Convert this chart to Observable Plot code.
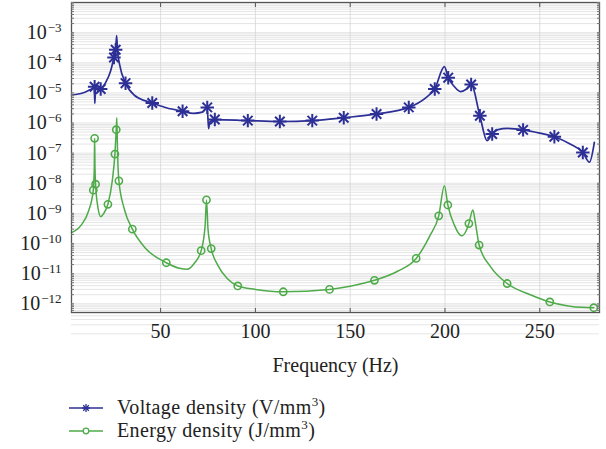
<!DOCTYPE html>
<html><head><meta charset="utf-8">
<script src="https://cdn.jsdelivr.net/npm/d3@7"></script>
<script src="https://cdn.jsdelivr.net/npm/@observablehq/plot@0.6"></script>
<style>
body{margin:0;background:#fff;font-family:"Liberation Serif",serif;}
#wrap{position:relative;width:606px;height:449px;overflow:hidden;}
#legend{position:absolute;left:69px;top:396px;font-size:20px;letter-spacing:0.4px;color:#222;}
.row{display:flex;align-items:center;height:23px;white-space:nowrap;}
.row svg{margin-right:14px;}
sup{font-size:13px;vertical-align:8px;line-height:0;}
</style></head><body><div id="wrap"><div id="chart"></div><div id="legend"></div></div>
<script>
// ---- Data ----
const voltageFreq = [3, 8, 12, 14.5, 15.0, 15.3, 15.7, 18.4, 21, 23.5, 25.4, 26.3, 26.8, 27.3, 28.5, 31.5, 36, 45.6, 53, 61.6, 67.4, 72, 74.6, 75.3, 76, 78.6, 96, 112.9, 130, 146.6, 163.9, 180.9, 190, 194.6, 199.7, 201.7, 205, 208.2, 211, 213.8, 218.4, 222.2, 224.9, 228, 232.8, 241.2, 250, 257.7, 266, 272.7, 276.2, 278.8];
const voltageValue = [8.5e-6, 9.5e-6, 1.2e-5, 1.5e-5, 1.7e-5, 4.5e-6, 1.4e-5, 1.35e-5, 2.2e-5, 5e-5, 1.5e-4, 2.7e-4, 8e-4, 2.5e-4, 8e-5, 2.1e-5, 8.5e-6, 4.6e-6, 3.2e-6, 2.45e-6, 2.1e-6, 2.3e-6, 3.3e-6, 6.5e-7, 1.1e-6, 1.3e-6, 1.2e-6, 1.12e-6, 1.2e-6, 1.5e-6, 2e-6, 3.3e-6, 7e-6, 1.35e-5, 7.4e-5, 3.2e-5, 1.6e-5, 1.1e-5, 1.3e-5, 1.9e-5, 1.75e-6, 2.6e-7, 4.3e-7, 6e-7, 6.6e-7, 5.9e-7, 4.6e-7, 3.5e-7, 2e-7, 1.05e-7, 5e-8, 2.3e-7];
const voltageMarkFreq = [15.2, 18.4, 25.4, 26.3, 31.5, 45.6, 61.6, 74.6, 78.6, 96, 112.9, 130, 146.6, 163.9, 180.9, 194.6, 201.7, 213.8, 218.4, 224.9, 241.2, 257.7, 272.7];
const voltageMarkValue = [1.6e-5, 1.35e-5, 1.5e-4, 2.7e-4, 2.1e-5, 4.6e-6, 2.45e-6, 3.3e-6, 1.3e-6, 1.2e-6, 1.12e-6, 1.2e-6, 1.5e-6, 2e-6, 3.3e-6, 1.35e-5, 3.2e-5, 1.9e-5, 1.75e-6, 4.3e-7, 5.9e-7, 3.5e-7, 1.05e-7];

const energyFreq = [3, 8, 12, 14.5, 15.0, 15.2, 15.4, 15.7, 17, 18.4, 20, 22.2, 24.5, 25.9, 26.6, 26.9, 27.3, 28, 31, 35.1, 42, 53, 60, 64, 68, 71.4, 73.5, 74.2, 75, 76.7, 80, 85, 90.7, 100, 114.7, 139.1, 150, 162.8, 175, 184.8, 192, 196.7, 199.7, 201.5, 205, 208.7, 211, 212.6, 214.7, 216, 218, 224, 232.8, 245, 255.3, 265, 272, 278.5];
const energyValue = [2.3e-10, 4e-10, 1.2e-9, 5.9e-9, 3e-8, 3.1e-7, 3e-8, 9.3e-9, 1.5e-9, 7.8e-10, 1e-9, 2e-9, 1.2e-8, 9.3e-8, 6e-7, 1.5e-6, 1e-7, 1.2e-8, 1.3e-9, 3e-10, 7e-11, 2.3e-11, 1.5e-11, 1.4e-11, 2.3e-11, 5.8e-11, 4e-10, 2.8e-9, 3e-10, 6.8e-11, 2e-11, 7e-12, 3.9e-12, 3e-12, 2.5e-12, 3e-12, 3.8e-12, 6e-12, 1.2e-11, 3.2e-11, 1.8e-10, 8.3e-10, 8.3e-9, 1.9e-9, 4e-10, 1.8e-10, 2.5e-10, 4.6e-10, 1.3e-9, 5e-10, 8.9e-11, 1.7e-11, 4.7e-12, 2e-12, 1.15e-12, 8.5e-13, 7.6e-13, 7.4e-13];
const energyMarkFreq = [14.5, 15.2, 15.7, 22.2, 25.9, 26.6, 28, 35.1, 53, 71.4, 74.2, 76.7, 90.7, 114.7, 139.1, 162.8, 184.8, 196.7, 201.5, 212.6, 218, 232.8, 255.3, 278.5];
const energyMarkValue = [5.9e-9, 3.1e-7, 9.3e-9, 2e-9, 9.3e-8, 6e-7, 1.2e-8, 3e-10, 2.3e-11, 5.8e-11, 2.8e-9, 6.8e-11, 3.9e-12, 2.5e-12, 3e-12, 6e-12, 3.2e-11, 8.3e-10, 1.9e-9, 4.6e-10, 8.9e-11, 4.7e-12, 1.15e-12, 7.4e-13];

const xTicks = [50, 100, 150, 200, 250];
const yDecadeExponents = [-12, -11, -10, -9, -8, -7, -6, -5, -4, -3];
const seriesNames = ["Voltage density (V/mm", "Energy density (J/mm"];
const xLabel = "Frequency (Hz)";

// ---- Build tables ----
const zip = (xs, ys) => xs.map((x, i) => ({x, y: ys[i]}));
const voltage = zip(voltageFreq, voltageValue);
const voltageMarks = zip(voltageMarkFreq, voltageMarkValue);
const energy = zip(energyFreq, energyValue);
const energyMarks = zip(energyMarkFreq, energyMarkValue);

const decadeTicks = yDecadeExponents.map(e => Math.pow(10, e));
const yMin = Math.pow(10, -12.29), yMax = 1e-2;
const minorTicks = [];
for (let e = -13; e <= -2; e++) for (let m = 1; m <= 9; m++) minorTicks.push(m * Math.pow(10, e));
const minorInside = minorTicks.filter(v => v >= yMin && v <= yMax);

const blue = "#2c2f95";
const green = "#4fab4a";

const plot = Plot.plot({
  width: 606, height: 385,
  marginLeft: 71, marginRight: 7, marginTop: 2, marginBottom: 73,
  style: {fontFamily: "'Liberation Serif', serif", fontSize: "20px", color: "#222", background: "white"},
  x: {domain: [3, 281.5]},
  y: {type: "log", domain: [yMin, yMax]},
  marks: [
    Plot.gridY(minorTicks, {stroke: "#dedede", strokeOpacity: 1, strokeWidth: 0.8}),
    Plot.gridX(xTicks, {stroke: "#d6d6d6", strokeOpacity: 1, strokeWidth: 0.8}),
    Plot.line(energy, {x: "x", y: "y", stroke: green, strokeWidth: 1.5, curve: "monotone-x"}),
    Plot.dot(energyMarks, {x: "x", y: "y", r: 3.6, stroke: green, strokeWidth: 1.6, fill: "none"}),
    Plot.line(voltage, {x: "x", y: "y", stroke: blue, strokeWidth: 1.7, curve: "monotone-x"}),
    Plot.dot(voltageMarks, {x: "x", y: "y", symbol: "plus", r: 4.4, stroke: blue, strokeWidth: 2}),
    Plot.dot(voltageMarks, {x: "x", y: "y", symbol: "times", r: 4.4, stroke: blue, strokeWidth: 2}),
    Plot.frame({stroke: "#555", strokeWidth: 1.3}),
    Plot.axisX(xTicks, {anchor: "bottom", tickSize: 0, tickPadding: 11, tickFormat: d => String(d), label: xLabel, labelAnchor: "center", labelArrow: "none", labelOffset: 59}),
    Plot.axisX(xTicks, {anchor: "bottom", tickSize: -4, fill: "none", label: null, stroke: "#555"}),
    Plot.axisX(xTicks, {anchor: "top", tickSize: -4, fill: "none", label: null, stroke: "#555"}),
    Plot.axisY(decadeTicks, {anchor: "left", tickSize: 0, tickPadding: 10, tickFormat: d => "10^" + Math.round(Math.log10(d)), label: null}),
    Plot.axisY(minorInside, {anchor: "left", tickSize: -3, fill: "none", label: null, stroke: "#777"}),
    Plot.axisY(minorInside, {anchor: "right", tickSize: -3, fill: "none", label: null, stroke: "#777"})
  ]
});

// superscript exponents on y tick labels
const ns = "http://www.w3.org/2000/svg";
plot.querySelectorAll("text").forEach(t => {
  const m = /^10\^(-?\d+)$/.exec(t.textContent);
  if (!m) return;
  t.textContent = "";
  const a = document.createElementNS(ns, "tspan"); a.textContent = "10";
  const b = document.createElementNS(ns, "tspan");
  b.textContent = "\u2212" + Math.abs(+m[1]);
  b.setAttribute("dy", "-0.55em"); b.setAttribute("dx", "1"); b.setAttribute("font-size", "13px");
  t.append(a, b);
});
document.getElementById("chart").appendChild(plot);

// legend
const legend = document.getElementById("legend");
const sampleBlue = `<svg width="34" height="14"><line x1="0" x2="34" y1="7" y2="7" stroke="${blue}" stroke-width="1.3"/><g stroke="${blue}" stroke-width="1.3"><line x1="17" x2="17" y1="3" y2="11"/><line x1="13" x2="21" y1="7" y2="7"/><line x1="14.2" x2="19.8" y1="4.2" y2="9.8"/><line x1="14.2" x2="19.8" y1="9.8" y2="4.2"/></g></svg>`;
const sampleGreen = `<svg width="34" height="14"><line x1="0" x2="34" y1="7" y2="7" stroke="${green}" stroke-width="1.3"/><circle cx="17" cy="7" r="2.8" fill="white" stroke="${green}" stroke-width="1.3"/></svg>`;
legend.innerHTML = `<div class="row">${sampleBlue}<span>${seriesNames[0]}<sup>3</sup>)</span></div><div class="row">${sampleGreen}<span>${seriesNames[1]}<sup>3</sup>)</span></div>`;
</script></body></html>
